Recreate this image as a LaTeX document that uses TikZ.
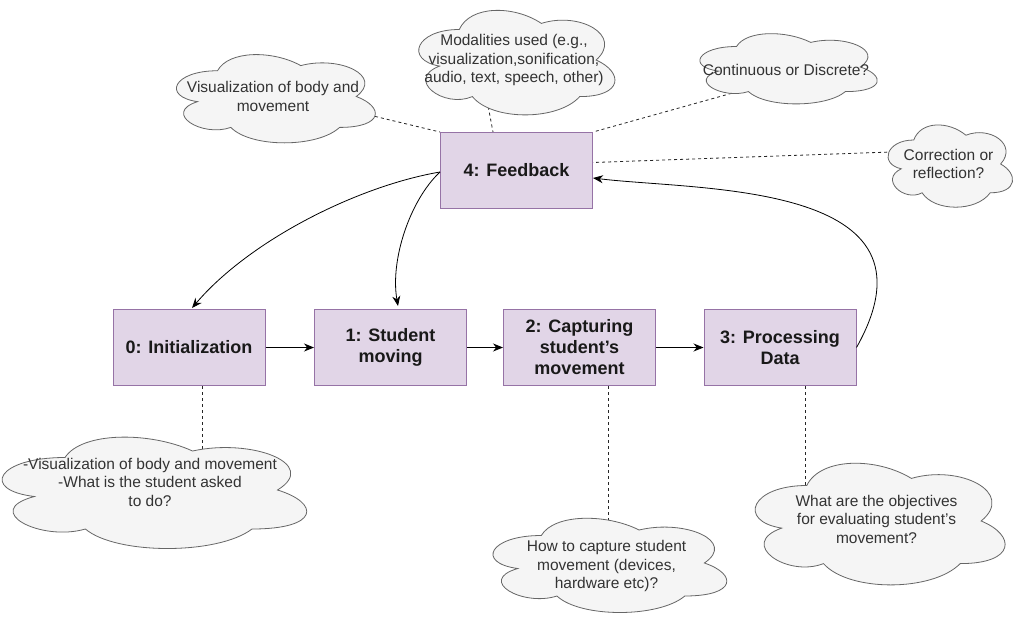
\documentclass[tikz,border=0pt]{standalone}
\usepackage{fontspec}
\setmainfont{Liberation Sans}
\usetikzlibrary{arrows.meta,calc}
\definecolor{boxfill}{HTML}{E1D5E7}
\definecolor{boxline}{HTML}{9673A6}
\definecolor{cloudfill}{HTML}{F5F5F5}
\definecolor{cloudline}{HTML}{666666}
\definecolor{cloudtxt}{HTML}{333333}
\pgfdeclarelayer{background}
\pgfdeclarelayer{paper}
\pgfsetlayers{paper,background,main}
\newcommand\mkcloud[7]{%
  \draw[cloudpath, shift={(#2-#4/2,#3-#5/2)}, x=#4pt, y=-#5pt]
    (0.25,0.25) .. controls (0.05,0.25) and (0,0.5) .. (0.16,0.55)
    .. controls (0,0.66) and (0.18,0.9) .. (0.31,0.8)
    .. controls (0.4,1) and (0.7,1) .. (0.8,0.8)
    .. controls (1,0.8) and (1,0.6) .. (0.875,0.5)
    .. controls (1,0.3) and (0.8,0.1) .. (0.625,0.2)
    .. controls (0.5,0.05) and (0.3,0.05) .. (0.25,0.25) -- cycle;
  \node[cloudtext] (#1) at (#2,#3+#6) {#7};
}
\begin{document}
\begin{tikzpicture}[x=1pt, y=-1pt,
  stepbox/.style={draw=boxline, fill=boxfill, line width=1pt, minimum width=152pt,
    minimum height=76pt, inner sep=0pt, align=center,
    font=\fontsize{18}{21}\selectfont\bfseries, text=black!90},
  cloudpath/.style={draw=cloudline, fill=cloudfill, line width=0.8pt},
  cloudtext/.style={align=center, text=cloudtxt, inner sep=0pt,
    font=\fontsize{15.5}{18.5}\selectfont},
  flow/.style={-{Stealth[length=10pt,width=8pt]}, line width=0.8pt, black},
  dashlink/.style={line width=0.8pt, black!85, dash pattern=on 3pt off 3pt}]
\begin{pgfonlayer}{paper}
\fill[white] (0,0) rectangle (1016,621);
\end{pgfonlayer}
\useasboundingbox (0,0) rectangle (1016,621);

% boxes
\node[stepbox] (fb) at (516.5,170.5) {4: Feedback};
\node[stepbox] (b0) at (189,347.5) {0: Initialization};
\node[stepbox] (b1) at (390.5,347.5) {1: Student\\moving};
\node[stepbox] (b2) at (579.5,347.5) {2: Capturing\\student's\\movement};
\node[stepbox] (b3) at (780,347.5) {3: Processing\\Data};

% clouds
\mkcloud{cA}{273}{96.5}{222}{103}{0}{Visualization of body and\\movement}
\mkcloud{cB}{514}{60}{219}{122}{0}{Modalities used (e.g.,\\visualization,sonification,\\audio, text, speech, other)}
\mkcloud{cC}{786}{67}{198}{82}{3}{Continuous or Discrete?}
\mkcloud{cD}{948.5}{164}{139}{96}{0}{Correction or\\reflection?}
\mkcloud{cE}{150}{490}{340}{130}{-8}{-Visualization of body and movement\\-What is the student asked\\to do?}
\mkcloud{cF}{606.5}{563}{261}{110}{3}{How to capture student\\movement (devices,\\hardware etc)?}
\mkcloud{cG}{876.5}{521}{279}{142}{-2}{What are the objectives\\for evaluating student's\\movement?}

% attachment points inside the clouds
\coordinate (pA) at (340,108);
\coordinate (pB) at (486,95);
\coordinate (pC) at (772,82);
\coordinate (pD) at (905,151.5);
\coordinate (pE) at (202,470);
\coordinate (pF) at (608,540);
\coordinate (pG) at (805,495);

\begin{pgfonlayer}{background}
\draw[dashlink] (pA) -- (fb.north west);
\draw[dashlink] (pB) -- ($(fb.north west)+(53,0)$);
\draw[dashlink] (pC) -- (fb.north east);
\draw[dashlink] (pD) -- ($(fb.east)+(0,-8)$);
\draw[dashlink] ($(b0.south)+(13,0)$) -- (pE);
\draw[dashlink] ($(b2.south)+(28.5,0)$) -- (pF);
\draw[dashlink] ($(b3.south)+(25,0)$) -- (pG);
\end{pgfonlayer}

% flow arrows
\draw[flow] (b0) -- (b1);
\draw[flow] (b1) -- (b2);
\draw[flow] (b2) -- (b3);
\draw[flow] ($(fb.west)+(0,1.5)$) .. controls (358,186) and (250,240) .. ($(b0.north)+(3,-1)$);
\draw[flow] ($(fb.west)+(0,1.5)$) .. controls (410,200) and (390,260) .. ($(b1.north)+(7.5,-3)$);
\draw[flow] (b3.east) .. controls (950,181) and (700,191) .. ($(fb.east)+(0,7.5)$);
\end{tikzpicture}
\end{document}
